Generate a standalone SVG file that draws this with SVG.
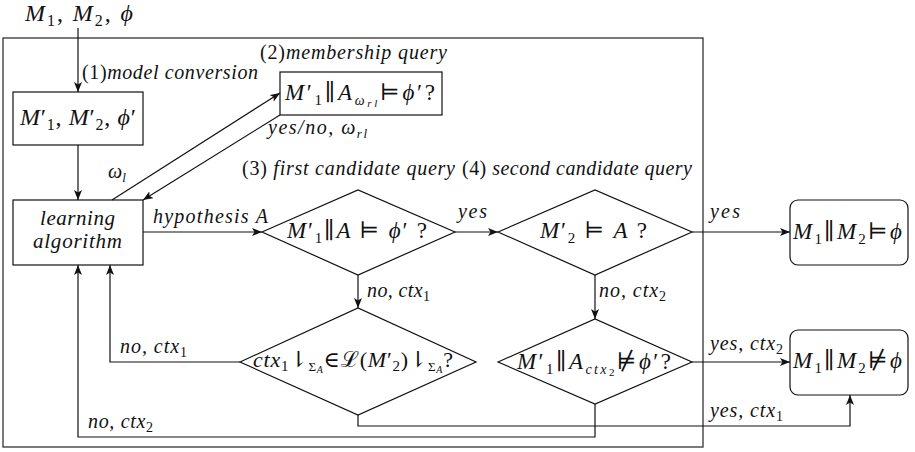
<svg xmlns="http://www.w3.org/2000/svg" width="915" height="452" viewBox="0 0 915 452" font-family="'Liberation Serif', 'Times New Roman', 'DejaVu Serif', 'Noto Serif', serif">
<defs>
<marker id="ah" markerUnits="userSpaceOnUse" markerWidth="12" markerHeight="10" refX="10" refY="4" orient="auto">
<path d="M0,0 L10,4 L0,8 L2.5,4 z" fill="#111"/>
</marker>
<style>
text{font-family:'Liberation Serif','Times New Roman','DejaVu Serif','Noto Serif',serif;font-style:italic;fill:#111}
.up{font-style:normal}
.lbl{font-size:20px}
.big{font-size:24px}
.mid{font-size:23px}
.n{fill:#fff;stroke:#111;stroke-width:1.2}
.c{fill:none;stroke:#111;stroke-width:1.2}
.ca{fill:none;stroke:#111;stroke-width:1.2;marker-end:url(#ah)}
</style>
</defs>
<rect width="915" height="452" fill="#fff"/>
<rect id="frame" x="3" y="38" width="700" height="409" fill="none" stroke="#333" stroke-width="1.3"/>

<g id="input">
<text x="25" y="21" style="font-size:24px" textLength="108" lengthAdjust="spacing">M<tspan class="up" font-size="16" dy="5">1</tspan><tspan class="up" dy="-5">, </tspan>M<tspan class="up" font-size="16" dy="5">2</tspan><tspan class="up" dy="-5">, </tspan>ϕ</text>
</g>

<g id="n_conv">
<rect class="n" x="13" y="92" width="130" height="53"/>
<text x="20" y="125" class="big" textLength="116" lengthAdjust="spacing">M<tspan class="up">′</tspan><tspan class="up" font-size="16" dy="5">1</tspan><tspan class="up" dy="-5">, </tspan>M<tspan class="up">′</tspan><tspan class="up" font-size="16" dy="5">2</tspan><tspan class="up" dy="-5">, </tspan>ϕ<tspan class="up">′</tspan></text>
</g>

<g id="n_member">
<rect class="n" x="280" y="72" width="162" height="43"/>
<text x="285" y="100" class="mid" textLength="150" lengthAdjust="spacing">M<tspan class="up">′</tspan><tspan class="up" font-size="15" dy="5">1</tspan><tspan class="up" dy="-5">∥</tspan>A<tspan font-size="14" dy="5">ω<tspan font-size="11" dy="2">rl</tspan></tspan><tspan class="up" dy="-7">⊨</tspan>ϕ<tspan class="up">′?</tspan></text>
</g>

<g id="n_learn">
<rect class="n" x="13" y="200" width="130" height="65"/>
<text x="40" y="225" style="font-size:21px" textLength="75" lengthAdjust="spacing">learning</text>
<text x="33" y="248" style="font-size:21px" textLength="89" lengthAdjust="spacing">algorithm</text>
</g>

<g id="n_q3">
<polygon class="n" points="262,232 358,190 455,232 358,275"/>
<text x="287" y="238" class="mid" textLength="140" lengthAdjust="spacing">M<tspan class="up">′</tspan><tspan class="up" font-size="15" dy="5">1</tspan><tspan class="up" dy="-5">∥</tspan>A <tspan class="up">⊨</tspan> ϕ<tspan class="up">′ ?</tspan></text>
</g>

<g id="n_q4">
<polygon class="n" points="498,232 595,190 692,232 595,275"/>
<text x="540" y="238" class="mid" textLength="107" lengthAdjust="spacing">M<tspan class="up">′</tspan><tspan class="up" font-size="15" dy="5">2</tspan><tspan class="up" dy="-5"> ⊨ </tspan>A<tspan class="up"> ?</tspan></text>
</g>

<g id="n_q3b">
<polygon class="n" points="240,362 358,308 476,362 358,415"/>
<text x="253" y="367" style="font-size:22px" textLength="200" lengthAdjust="spacing">ctx<tspan class="up" font-size="15" dy="4">1</tspan><tspan class="up" dy="-4">⇂</tspan><tspan class="up" font-size="13" dy="4">Σ</tspan><tspan font-size="10" dy="2">A</tspan><tspan class="up" dy="-6">∈</tspan>ℒ<tspan class="up">(</tspan>M<tspan class="up">′</tspan><tspan class="up" font-size="15" dy="4">2</tspan><tspan class="up" dy="-4">)⇂</tspan><tspan class="up" font-size="13" dy="4">Σ</tspan><tspan font-size="10" dy="2">A</tspan><tspan class="up" dy="-6">?</tspan></text>
</g>

<g id="n_q4b">
<polygon class="n" points="498,362 595,319 692,362 595,404"/>
<text x="517" y="369" style="font-size:23px" textLength="154" lengthAdjust="spacing">M<tspan class="up">′</tspan><tspan class="up" font-size="15" dy="5">1</tspan><tspan class="up" dy="-5">∥</tspan>A<tspan font-size="14" dy="5">ctx<tspan class="up" font-size="11" dy="2">2</tspan></tspan><tspan class="up" dy="-7">⊭</tspan>ϕ<tspan class="up">′?</tspan></text>
</g>

<g id="n_sat">
<rect class="n" x="790" y="200" width="118" height="65" rx="8"/>
<text x="793" y="239" style="font-size:23px" textLength="109" lengthAdjust="spacing">M<tspan class="up" font-size="15" dy="5">1</tspan><tspan class="up" dy="-5">∥</tspan>M<tspan class="up" font-size="15" dy="5">2</tspan><tspan class="up" dy="-5">⊨</tspan>ϕ</text>
</g>

<g id="n_unsat">
<rect class="n" x="790" y="330" width="118" height="65" rx="8"/>
<text x="793" y="368" style="font-size:23px" textLength="109" lengthAdjust="spacing">M<tspan class="up" font-size="15" dy="5">1</tspan><tspan class="up" dy="-5">∥</tspan>M<tspan class="up" font-size="15" dy="5">2</tspan><tspan class="up" dy="-5">⊭</tspan>ϕ</text>
</g>

<g id="connectors">
<path class="ca" d="M78,28 L78,92"/>
<path class="ca" d="M78,145 L78,200"/>
<path class="ca" d="M112,200 L280,93"/>
<path class="ca" d="M280,115 L143,200"/>
<path class="ca" d="M143,232 L262,232"/>
<path class="ca" d="M455,232 L498,232"/>
<path class="ca" d="M692,232 L790,232"/>
<path class="ca" d="M358,275 L358,308"/>
<path class="ca" d="M595,275 L595,319"/>
<path class="ca" d="M240,362 L110,362 L110,265"/>
<path class="ca" d="M692,362 L790,362"/>
<path class="ca" d="M595,404 L595,437 L78,437 L78,265"/>
<path class="ca" d="M358,415 L358,426 L850,426 L850,395"/>
</g>

<g id="labels" class="lbl">
<text x="82" y="79" class="lbl" textLength="176" lengthAdjust="spacing"><tspan class="up">(1)</tspan>model conversion</text>
<text x="260" y="59" class="lbl" textLength="187" lengthAdjust="spacing"><tspan class="up">(2)</tspan>membership query</text>
<text x="268" y="134" class="lbl" textLength="99" lengthAdjust="spacing">yes/no, ω<tspan font-size="13" dy="4">rl</tspan></text>
<text x="108" y="178" class="lbl">ω<tspan font-size="13" dy="4">l</tspan></text>
<text x="242" y="175" class="lbl" textLength="213" lengthAdjust="spacing"><tspan class="up">(3)</tspan> first candidate query</text>
<text x="462" y="175" class="lbl" textLength="230" lengthAdjust="spacing"><tspan class="up">(4)</tspan> second candidate query</text>
<text x="153" y="223" class="lbl" textLength="115" lengthAdjust="spacing">hypothesis A</text>
<text x="458" y="218" class="lbl" textLength="29" lengthAdjust="spacing">yes</text>
<text x="710" y="218" class="lbl" textLength="30" lengthAdjust="spacing">yes</text>
<text x="367" y="297" class="lbl" textLength="63" lengthAdjust="spacing">no, ctx<tspan class="up" font-size="14" dy="4">1</tspan></text>
<text x="599" y="297" class="lbl" textLength="67" lengthAdjust="spacing">no, ctx<tspan class="up" font-size="14" dy="4">2</tspan></text>
<text x="120" y="353" class="lbl" textLength="67" lengthAdjust="spacing">no, ctx<tspan class="up" font-size="14" dy="4">1</tspan></text>
<text x="710" y="350" class="lbl" textLength="73" lengthAdjust="spacing">yes, ctx<tspan class="up" font-size="14" dy="4">2</tspan></text>
<text x="710" y="417" class="lbl" textLength="73" lengthAdjust="spacing">yes, ctx<tspan class="up" font-size="14" dy="4">1</tspan></text>
<text x="88" y="428" class="lbl" textLength="65" lengthAdjust="spacing">no, ctx<tspan class="up" font-size="14" dy="4">2</tspan></text>
</g>
</svg>
